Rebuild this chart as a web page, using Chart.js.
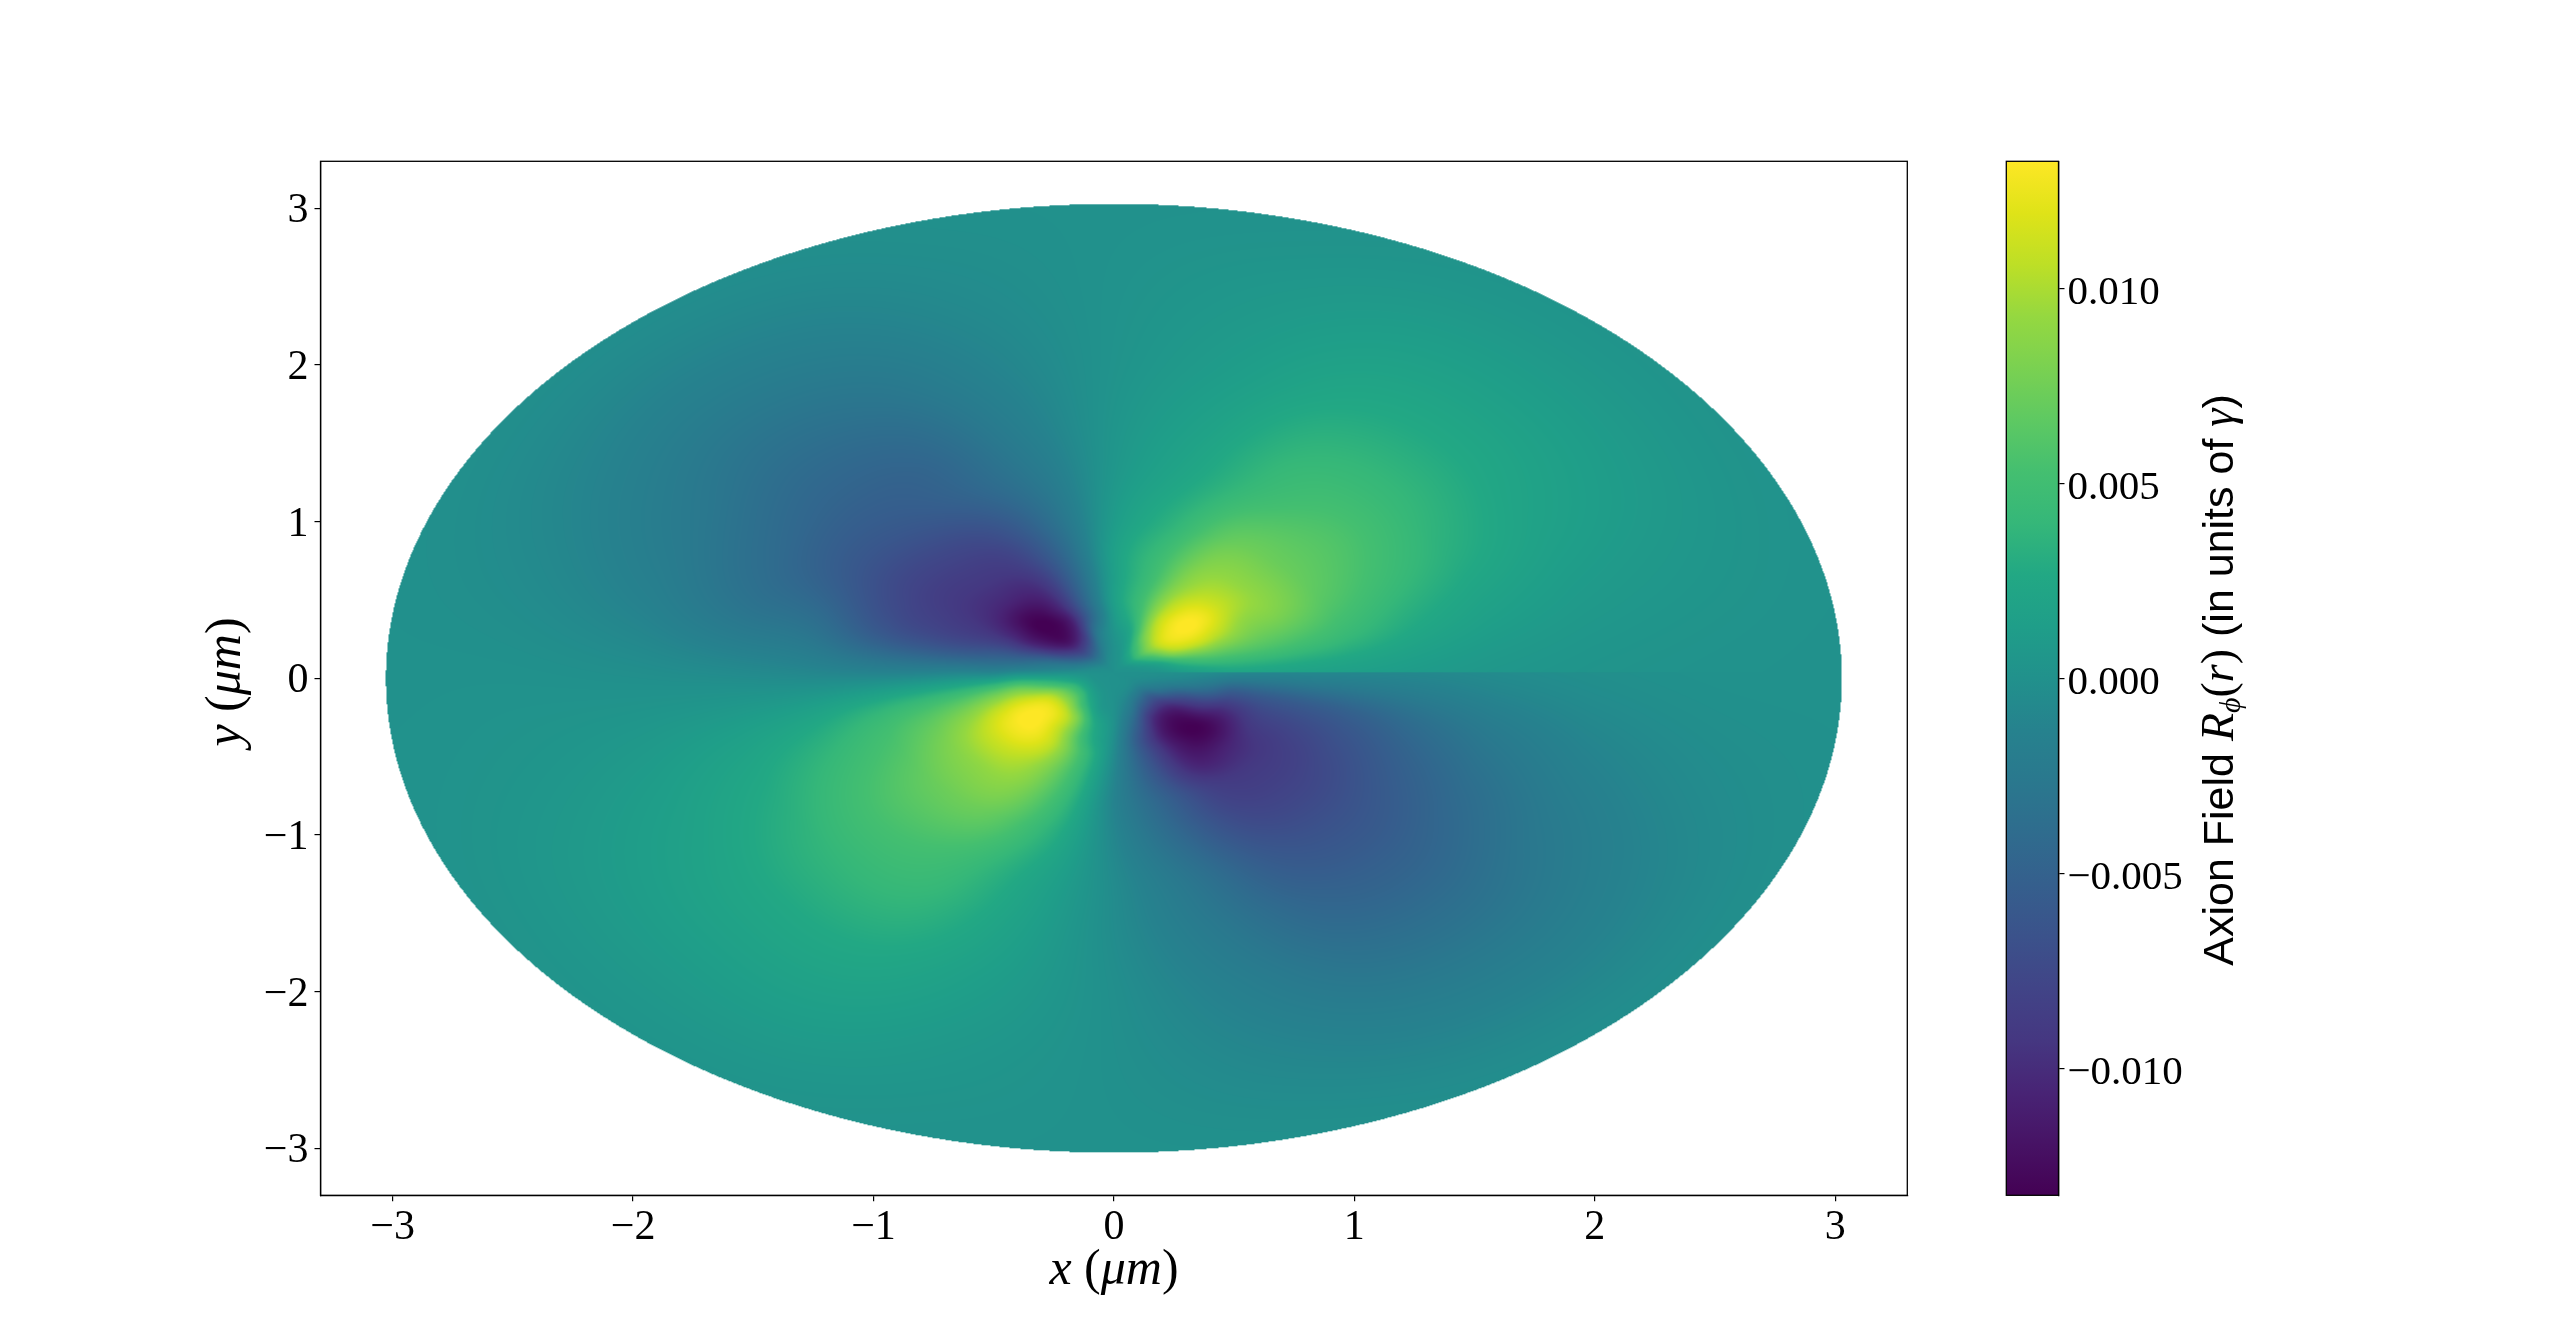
<!DOCTYPE html>
<html>
<head>
<meta charset="utf-8">
<title>Axion Field</title>
<script src="https://cdn.jsdelivr.net/npm/chart.js@4"></script>
<style>
  html, body { margin: 0; background: #fff; }
  #wrap { position: relative; width: 2560px; height: 1343px; overflow: hidden; }
  canvas { position: absolute; left: 0; top: 0; }
</style>
</head>
<body>
<div id="wrap">
  <canvas id="campo" width="2560" height="1343"></canvas>
  <canvas id="barra" width="2560" height="1343"></canvas>
</div>
<script>
const xTicks = [-3, -2, -1, 0, 1, 2, 3];
const yTicks = [-3, -2, -1, 0, 1, 2, 3];
const barTicks = [-0.010, -0.005, 0, 0.005, 0.010];
const barLimit = 0.01325;
const diskRadius = 3.028;
const seamY = 0.036;

// radial and angular nodes of the table
const radii = [0, 0.1, 0.2, 0.3, 0.4, 0.5, 0.65, 0.8, 1, 1.3, 1.6, 2, 2.5, 3.03];
const angles = [0, 15, 30, 45, 60, 75, 90, 105, 120, 135, 150, 165, 180, 195, 210, 225, 240, 255, 270, 285, 300, 315, 330, 345, 360];

// field in units of 10^-3, one row per radius, one column per angle
const field = [
  [0, 0, 0, 0, 0, 0, 0, 0, 0, 0, 0, 0, 0, 0, 0, 0, 0, 0, 0, 0, 0, 0, 0, 0, 0],
  [0.1, 0.3, 0.6, 0.9, 0.7, 0.3, 0, -0.3, -0.8, -1, -0.8, -0.4, 0, 0.4, 0.8, 1, 0.7, 0.3, 0, -0.3, -0.7, -0.9, -0.6, -0.2, -0.1],
  [0.4, 1.6, 4.5, 6.5, 4.3, 1.2, 0, -1.5, -5, -7, -5.5, -2.5, 0, 2.8, 6, 6.5, 3.8, 1, 0, -2, -5, -6, -3, -1, -0.1],
  [1.2, 4.5, 10, 11.5, 8.5, 2.5, 0.4, -2.5, -9.5, -12, -9.5, -4, -0.2, 5.5, 11, 11.8, 9, 3, 0, -4.5, -10, -10.8, -7, -2.2, -0.2],
  [1.8, 6, 11.5, 13.2, 10.8, 4.3, 0.9, -4.5, -11.5, -13.2, -11, -5.5, -0.4, 7.5, 12.5, 13.2, 10, 3.8, -0.3, -6.5, -11.8, -12.8, -9, -3.8, -0.4],
  [2.2, 6.2, 10.8, 13.2, 10.8, 5.2, 1.5, -4.5, -10.8, -13, -10.5, -6, -1, 7, 12, 13, 10.8, 5.2, -0.6, -6.5, -11.5, -13, -10.5, -6, -0.8],
  [2, 6, 8.8, 10.8, 9.5, 5, 1.5, -4.5, -9.8, -10.5, -9.5, -6.8, -1, 5.8, 9.8, 10.8, 9.5, 5, -1, -6, -10.5, -10.5, -8.8, -6, -1],
  [1.8, 5.5, 8.2, 9, 8.5, 4.8, 1.6, -4.2, -8.5, -9.2, -8.8, -6.8, -1.2, 5, 7.8, 8.8, 8.5, 4.5, -1.2, -5, -8.5, -9, -8.2, -5.8, -0.9],
  [1.5, 4.5, 6.5, 7.2, 7, 3.8, 1.1, -3.6, -7.2, -8, -7.8, -6, -1.2, 4, 6, 7.2, 7, 3.6, -0.9, -4.4, -7.5, -8, -7.2, -5.2, -0.9],
  [1, 2.9, 4.9, 5.8, 4.9, 2.6, 0.6, -2.7, -5, -6, -5.8, -3.6, -0.8, 2.5, 4.5, 5.5, 5, 2.4, -0.5, -3.2, -6, -6.5, -5.6, -3.8, -0.8],
  [0.6, 1.8, 3.4, 4.3, 4, 2, 0.4, -2, -4.4, -4.8, -4.2, -3, -0.5, 1.6, 3, 4, 4, 1.9, -0.4, -2.6, -4.8, -5.2, -4.2, -2.5, -0.5],
  [0.3, 1, 2, 2.7, 2.6, 1.3, 0.2, -1.3, -3, -3.4, -2.6, -1.6, -0.2, 0.9, 1.8, 2.5, 2.6, 1.3, -0.2, -1.8, -3.4, -3.6, -2.6, -1.3, -0.2],
  [0.1, 0.5, 1, 1.3, 1.3, 0.7, 0.1, -0.6, -1.4, -1.6, -1.2, -0.6, 0, 0.4, 0.9, 1.2, 1.3, 0.6, -0.1, -0.9, -1.6, -1.7, -1.2, -0.5, 0],
  [0, 0.1, 0.2, 0.3, 0.3, 0.1, 0, -0.1, -0.3, -0.3, -0.2, -0.1, 0, 0.1, 0.2, 0.3, 0.3, 0.1, 0, -0.1, -0.3, -0.3, -0.2, -0.1, 0]
];

const viridis = ["#440154", "#471365", "#482475", "#453781", "#414487", "#3b528b", "#355f8d", "#2f6c8e", "#2a788e", "#26828e", "#21918c",
  "#1f9e89", "#22a884", "#35b779", "#44bf70", "#5ec962", "#7ad151", "#95d840", "#bddf26", "#dfe318", "#fde725"];

const serif = '"Liberation Serif"';
const sans = '"Liberation Sans"';
const tickFont = { family: serif, size: 42 };
const barTickFont = { family: serif, size: 41 };

const labelX = [["x", "italic", 50, serif], [" (", "", 50, serif], ["μm", "italic", 50, serif], [")", "", 50, serif]];
const labelY = [["y", "italic", 50, serif], [" (", "", 50, serif], ["μm", "italic", 50, serif], [")", "", 50, serif]];
const labelBar = [
  ["Axion Field ", "", 43, sans], ["R", "italic", 46, serif], ["ϕ", "italic", 30, serif, 7], ["(", "", 46, serif], ["r", "italic", 46, serif], [")", "", 46, serif],
  [" (in units of ", "", 43, sans], ["γ", "italic", 46, serif], [")", "", 43, sans]
];

function conMenos(v) {
  return String(v).replace("-", "\u2212");
}

function rgb(hex) {
  return [parseInt(hex.slice(1, 3), 16), parseInt(hex.slice(3, 5), 16), parseInt(hex.slice(5, 7), 16)];
}
const viridisRgb = viridis.map(rgb);

function colorDe(milli) {
  let t = (milli / (barLimit * 1000) + 1) / 2;
  t = Math.max(0, Math.min(1, t)) * (viridisRgb.length - 1);
  const i = Math.min(Math.floor(t), viridisRgb.length - 2);
  const f = t - i;
  const a = viridisRgb[i], b = viridisRgb[i + 1];
  return [a[0] + (b[0] - a[0]) * f, a[1] + (b[1] - a[1]) * f, a[2] + (b[2] - a[2]) * f];
}

function catmull(p0, p1, p2, p3, t) {
  return 0.5 * (2 * p1 + (p2 - p0) * t + (2 * p0 - 5 * p1 + 4 * p2 - p3) * t * t + (3 * p1 - p0 - 3 * p2 + p3) * t * t * t);
}

function lugar(nodes, v) {
  let i = 0;
  while (i < nodes.length - 2 && v > nodes[i + 1]) i++;
  return [i, Math.min(1, (v - nodes[i]) / (nodes[i + 1] - nodes[i]))];
}

function campoEn(r, deg) {
  const [ir, tr] = lugar(radii, r);
  const [ia, ta] = lugar(angles, deg);
  const filas = [];
  for (let k = -1; k <= 2; k++) {
    const row = field[Math.max(0, Math.min(radii.length - 1, ir + k))];
    const c = j => row[Math.max(0, Math.min(angles.length - 1, j))];
    filas.push(catmull(c(ia - 1), c(ia), c(ia + 1), c(ia + 2), ta));
  }
  return catmull(filas[0], filas[1], filas[2], filas[3], tr);
}

// shaded polar cells, painted behind the datasets using the chart scales
const sombreado = {
  id: "sombreado",
  beforeDatasetsDraw(chart) {
    const { ctx, chartArea: a, scales } = chart;
    const w = Math.ceil(a.right - a.left), h = Math.ceil(a.bottom - a.top);
    const off = document.createElement("canvas");
    off.width = w;
    off.height = h;
    const octx = off.getContext("2d");
    const img = octx.createImageData(w, h);
    for (let py = 0; py < h; py++) {
      const y = scales.y.getValueForPixel(a.top + py + 0.5);
      for (let px = 0; px < w; px++) {
        const x = scales.x.getValueForPixel(a.left + px + 0.5);
        const r = Math.hypot(x, y);
        if (r > diskRadius) continue;
        let deg = Math.atan2(y - seamY, x) * 180 / Math.PI;
        if (deg < 0) deg += 360;
        const c = colorDe(campoEn(r, deg));
        const o = (py * w + px) * 4;
        img.data[o] = c[0];
        img.data[o + 1] = c[1];
        img.data[o + 2] = c[2];
        img.data[o + 3] = 255;
      }
    }
    octx.putImageData(img, 0, 0);
    ctx.drawImage(off, a.left, a.top);
  }
};

function textoMixto(ctx, runs, x, y, vertical) {
  ctx.save();
  ctx.translate(x, y);
  if (vertical) ctx.rotate(-Math.PI / 2);
  ctx.fillStyle = "#000";
  ctx.textBaseline = "alphabetic";
  let total = 0;
  const fuente = run => `${run[1]} ${run[2]}px ${run[3]}`;
  runs.forEach(run => {
    ctx.font = fuente(run);
    total += ctx.measureText(run[0]).width;
  });
  let pos = -total / 2;
  runs.forEach(run => {
    ctx.font = fuente(run);
    ctx.fillText(run[0], pos, run[4] || 0);
    pos += ctx.measureText(run[0]).width;
  });
  ctx.restore();
}

const marco = {
  id: "marco",
  afterDraw(chart) {
    const { ctx, chartArea: a } = chart;
    ctx.save();
    ctx.strokeStyle = "#000";
    ctx.lineWidth = 1.3;
    ctx.strokeRect(a.left, a.top, a.right - a.left, a.bottom - a.top);
    ctx.restore();
    if (chart.canvas.id === "campo") {
      textoMixto(ctx, labelX, 1114, 1284, false);
      textoMixto(ctx, labelY, 240, 682, true);
    } else {
      textoMixto(ctx, labelBar, 2233, 680, true);
    }
  }
};

const nodos = [];
radii.forEach((r, i) => {
  angles.forEach((deg, j) => {
    nodos.push({ x: r * Math.cos(deg * Math.PI / 180), y: r * Math.sin(deg * Math.PI / 180), v: field[i][j] });
  });
});

function ejeLineal(values, axisOpts) {
  return Object.assign({
    type: "linear",
    afterBuildTicks: s => { s.ticks = values.map(value => ({ value })); },
    border: { color: "#000", width: 1.3 },
    grid: { drawOnChartArea: false, drawTicks: true, tickLength: 6, tickColor: "#000", lineWidth: 1.2 }
  }, axisOpts);
}

Chart.defaults.font.family = serif;
Chart.defaults.color = "#000";

new Chart(document.getElementById("campo"), {
  type: "scatter",
  data: { datasets: [{ label: "Rphi", data: nodos, pointRadius: 0 }] },
  options: {
    responsive: false,
    animation: false,
    devicePixelRatio: 1,
    layout: { padding: { left: 0, right: 652.7, top: 161.3, bottom: 0 } },
    plugins: { legend: { display: false }, tooltip: { enabled: false } },
    scales: {
      x: ejeLineal(xTicks, {
        min: -3.3, max: 3.3,
        afterFit: s => { s.height = 147.7; },
        ticks: { font: tickFont, padding: 1, maxRotation: 0, autoSkip: false, callback: v => conMenos(v) }
      }),
      y: ejeLineal(yTicks, {
        min: -3.3, max: 3.3,
        afterFit: s => { s.width = 320.5; },
        ticks: { font: tickFont, padding: 6, labelOffset: 3, autoSkip: false, callback: v => conMenos(v) }
      })
    }
  },
  plugins: [sombreado, marco]
});

new Chart(document.getElementById("barra"), {
  type: "bar",
  data: {
    labels: [""],
    datasets: [{
      data: [[-barLimit, barLimit]],
      barPercentage: 1,
      categoryPercentage: 1,
      backgroundColor: ctx => {
        const { chartArea: a } = ctx.chart;
        if (!a) return viridis[10];
        const g = ctx.chart.ctx.createLinearGradient(0, a.bottom, 0, a.top);
        viridis.forEach((c, i) => g.addColorStop(i / (viridis.length - 1), c));
        return g;
      }
    }]
  },
  options: {
    responsive: false,
    animation: false,
    devicePixelRatio: 1,
    layout: { padding: { left: 2006.3, right: 0, top: 161.3, bottom: 147.7 } },
    plugins: { legend: { display: false }, tooltip: { enabled: false } },
    scales: {
      x: { display: false },
      y: ejeLineal(barTicks, {
        position: "right",
        min: -barLimit, max: barLimit,
        afterFit: s => { s.width = 501.5; },
        ticks: { font: barTickFont, padding: 3, labelOffset: 5, autoSkip: false, callback: v => conMenos(v.toFixed(3)) }
      })
    }
  },
  plugins: [marco]
});
</script>
</body>
</html>
